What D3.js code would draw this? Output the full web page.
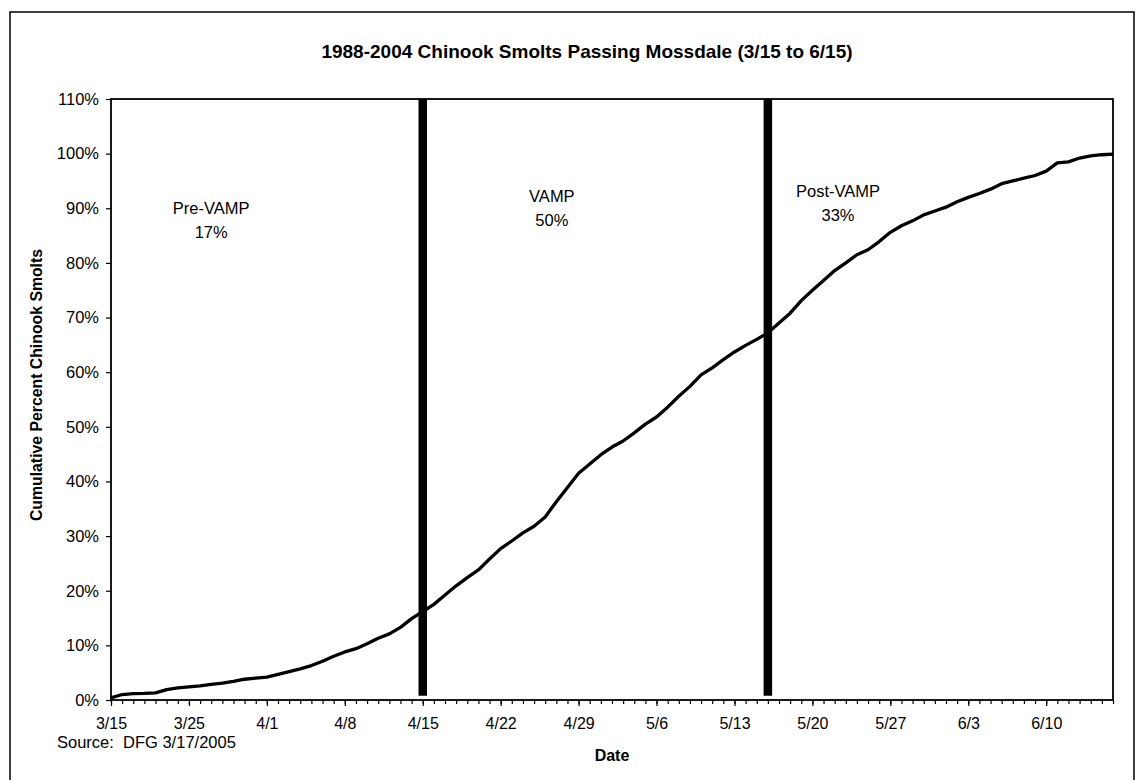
<!DOCTYPE html>
<html>
<head>
<meta charset="utf-8">
<script src="https://cdn.jsdelivr.net/npm/d3@7"></script>
<style>
  html, body { margin: 0; padding: 0; background: #fff; }
  text { font-family: "Liberation Sans", Arial, sans-serif; fill: #000; }
</style>
</head>
<body>
<svg id="chart" width="1138" height="780"></svg>
<script>
// ---- data ----
const title = "1988-2004 Chinook Smolts Passing Mossdale (3/15 to 6/15)";
const yTitle = "Cumulative Percent Chinook Smolts";
const xTitle = "Date";
const source = "Source:  DFG 3/17/2005";

// day index of each x tick label
const tickLabels = ["3/15","3/25","4/1","4/8","4/15","4/22","4/29","5/6","5/13","5/20","5/27","6/3","6/10"];
const tickIndex  = [0, 7, 14, 21, 28, 35, 42, 49, 56, 63, 70, 77, 84];

// cumulative percent (one value per day, 91 days)
const cumulative = [
  0.4, 1.0, 1.15, 1.2, 1.3, 1.9, 2.2, 2.4, 2.6, 2.85,
  3.1, 3.4, 3.8, 4.0, 4.2, 4.7, 5.2, 5.7, 6.3, 7.1,
  8.0, 8.8, 9.4, 10.3, 11.3, 12.1, 13.3, 14.9, 16.2, 17.5,
  19.2, 20.9, 22.4, 23.8, 25.8, 27.7, 29.1, 30.6, 31.8, 33.5,
  36.3, 38.9, 41.5, 43.2, 44.9, 46.3, 47.4, 48.9, 50.5, 51.8,
  53.6, 55.6, 57.4, 59.5, 60.8, 62.3, 63.7, 64.9, 66.0, 67.2,
  69.0, 70.8, 73.1, 75.0, 76.8, 78.6, 80.0, 81.5, 82.4, 83.9,
  85.6, 86.8, 87.7, 88.8, 89.5, 90.2, 91.2, 92.0, 92.7, 93.5,
  94.5, 95.0, 95.5, 96.0, 96.8, 98.3, 98.5, 99.2, 99.6, 99.8,
  99.9
];

// period boundaries (day index) and period labels
const boundaryIndex = [28, 59];
const periodNames = ["Pre-VAMP", "VAMP", "Post-VAMP"];
const periodShares = ["17%", "50%", "33%"];
const periodLabelIndex = [9, 39.6, 65.3];
const periodLabelLevel = [89, 91.2, 92];

const yTicks = [0,10,20,30,40,50,60,70,80,90,100,110];

(function () {
// ---- drawing ----
const svg = d3.select("#chart");
const pl = 111, pr = 1113, pt = 99, pb = 700;

const x = d3.scaleLinear().domain([0, cumulative.length - 1]).range([pl, pr]);
const y = d3.scaleLinear().domain([0, 110]).range([pb, pt]);

// outer frame
svg.append("rect")
  .attr("x", 10).attr("y", 12).attr("width", 1124).attr("height", 800)
  .attr("fill", "none").attr("stroke", "#000").attr("stroke-width", 1.5);

// title
svg.append("text")
  .attr("x", 587).attr("y", 58)
  .attr("text-anchor", "middle")
  .style("font-size", "19px").style("font-weight", "bold")
  .text(title);

// y axis
const yAxis = d3.axisLeft(y).tickValues(yTicks).tickSize(5).tickPadding(7)
  .tickFormat(d => d + "%");
const gy = svg.append("g").attr("transform", `translate(${pl},0)`).call(yAxis);
gy.select(".domain").remove();
gy.selectAll("text").style("font-size", "16.5px").style("font-family", "Liberation Sans, Arial, sans-serif");
gy.selectAll("line").attr("stroke-width", 1.2);

// x axis: minor daily ticks
const xMinor = d3.axisBottom(x).tickValues(d3.range(0, cumulative.length)).tickSize(4).tickFormat("");
const gxm = svg.append("g").attr("transform", `translate(0,${pb})`).call(xMinor);
gxm.select(".domain").remove();
gxm.selectAll("line").attr("stroke-width", 1.2);

// x axis labels
const xAxis = d3.axisBottom(x).tickValues(tickIndex).tickSize(6).tickPadding(12)
  .tickFormat((d, i) => tickLabels[i]);
const gx = svg.append("g").attr("transform", `translate(0,${pb})`).call(xAxis);
gx.select(".domain").remove();
gx.selectAll("text").style("font-size", "16px").style("font-family", "Liberation Sans, Arial, sans-serif");
gx.selectAll("line").attr("stroke-width", 1.2);

// plot frame
svg.append("rect")
  .attr("x", pl).attr("y", pt).attr("width", pr - pl).attr("height", pb - pt)
  .attr("fill", "none").attr("stroke", "#000").attr("stroke-width", 1.8);

// boundary bars
svg.selectAll(".bar").data(boundaryIndex).enter().append("line")
  .attr("class", "bar")
  .attr("x1", d => x(d)).attr("x2", d => x(d))
  .attr("y1", y(0.8)).attr("y2", y(110))
  .attr("stroke", "#000").attr("stroke-width", 8.5);

// cumulative curve
const line = d3.line().x((d, i) => x(i)).y(d => y(d));
svg.append("path")
  .datum(cumulative)
  .attr("d", line)
  .attr("fill", "none").attr("stroke", "#000").attr("stroke-width", 3.3)
  .attr("stroke-linejoin", "round");

// period labels
periodNames.forEach((name, i) => {
  const t = svg.append("text")
    .attr("x", x(periodLabelIndex[i])).attr("y", y(periodLabelLevel[i]))
    .attr("text-anchor", "middle")
    .style("font-size", "16.5px");
  t.append("tspan").attr("x", x(periodLabelIndex[i])).text(name);
  t.append("tspan").attr("x", x(periodLabelIndex[i])).attr("dy", 24).text(periodShares[i]);
});

// axis titles
svg.append("text")
  .attr("transform", `translate(42,385) rotate(-90)`)
  .attr("text-anchor", "middle")
  .style("font-size", "15.8px").style("font-weight", "bold")
  .text(yTitle);

svg.append("text")
  .attr("x", 612).attr("y", 761)
  .attr("text-anchor", "middle")
  .style("font-size", "16px").style("font-weight", "bold")
  .text(xTitle);

svg.append("text")
  .attr("x", 57).attr("y", 748)
  .style("font-size", "16.5px")
  .style("white-space", "pre")
  .text(source);
})();
</script>
</body>
</html>
